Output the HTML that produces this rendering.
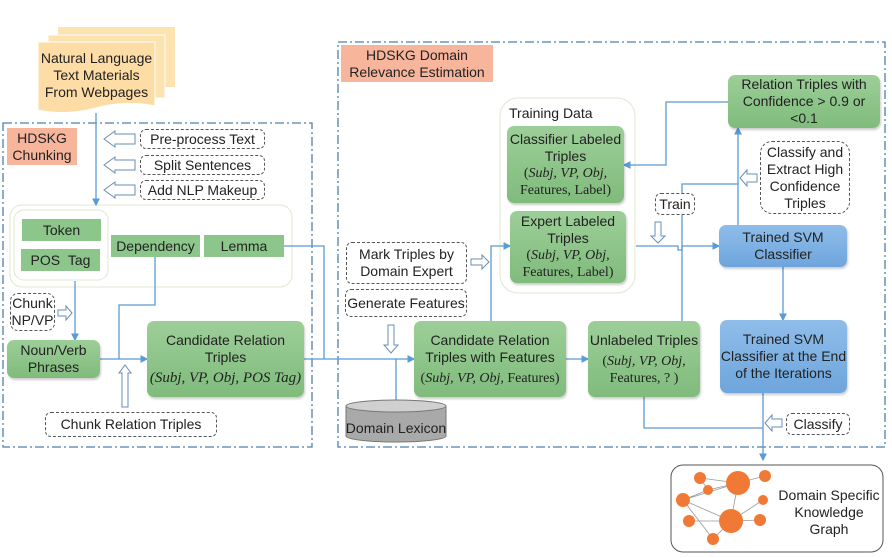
<!DOCTYPE html>
<html><head><meta charset="utf-8"><style>
body{margin:0;width:892px;height:558px;background:#fff;position:relative;overflow:hidden;font-family:"Liberation Sans",sans-serif;color:#222}
.a{position:absolute;box-sizing:border-box;display:flex;align-items:center;justify-content:center;text-align:center;font-size:14px;line-height:17px}
.g{background:linear-gradient(#9ccf98,#80bb7c);border-radius:7px;box-shadow:1px 2px 2px rgba(0,0,0,.2)}
.gs{background:#8cc68a;}
.b{background:linear-gradient(#8fbdea,#6ea5dc);border-radius:7px;box-shadow:1px 2px 2px rgba(0,0,0,.2)}
.d{border:1px dashed #555;border-radius:6px;background:#fff}
.s{background:#f7b59c}
.m{font-family:"Liberation Serif",serif;font-style:italic;font-size:15px}
.r{font-family:"Liberation Serif",serif;font-size:14px}
</style></head><body>
<svg width="892" height="558" style="position:absolute;left:0;top:0">
<defs><marker id="ar" markerWidth="6" markerHeight="6" refX="5" refY="3" orient="auto"><path d="M0,0L6,3L0,6z" fill="#5b9bd5"/></marker></defs>
<path d="M58,27H175V87H58Z" fill="#fde3b0"/>
<path d="M48,35H165V98H48Z" fill="#fde3b0" stroke="#fff"/>
<path d="M38,42H155V106Q125,100 96,108Q65,116 38,110Z" fill="#fddca5" stroke="#fff"/>
<rect x="3" y="123" width="309" height="324" fill="none" stroke="#4f7fae" stroke-width="1.3" stroke-dasharray="9,3,2,3"/>
<rect x="338" y="42" width="547" height="405" fill="none" stroke="#4f7fae" stroke-width="1.3" stroke-dasharray="9,3,2,3"/>
<rect x="10" y="205" width="282" height="82" rx="12" fill="none" stroke="#dfe8cf"/>
<rect x="14" y="210" width="94" height="70" rx="10" fill="none" stroke="#dfe8cf"/>
<rect x="500" y="98" width="135" height="195" rx="18" fill="none" stroke="#dfe8cf"/>
<g fill="none" stroke="#5b9bd5" stroke-width="1.3">
<path d="M96,113V205" marker-end="url(#ar)"/>
<path d="M75,281V340" marker-end="url(#ar)"/>
<path d="M155,257V305H119V359"/>
<path d="M100,359H147" marker-end="url(#ar)"/>
<path d="M284,246H324V359"/>
<path d="M304,359H414" marker-end="url(#ar)"/>
<path d="M396,359V400"/>
<path d="M491,321V246H510" marker-end="url(#ar)"/>
<path d="M566,359H588" marker-end="url(#ar)"/>
<path d="M636,246H678V250H682V246H719" marker-end="url(#ar)"/>
<path d="M682,321V184H738"/>
<path d="M738,225V128" marker-end="url(#ar)"/>
<path d="M728,102H666V165H624" marker-end="url(#ar)"/>
<path d="M783,267V320" marker-end="url(#ar)"/>
<path d="M644,397V428H763"/>
<path d="M763,393V460" marker-end="url(#ar)"/>
</g>
<g fill="#fff" stroke="#6a8fb5" stroke-width="1">
<path d="M135,134H115V131L104,139L115,147V144H135Z"/>
<path d="M135,160H115V157L104,165L115,173V170H135Z"/>
<path d="M135,185H115V182L104,190L115,198V195H135Z"/>
<path d="M58,310H66V306L72,313L66,320V316H58Z"/>
<path d="M122,407V373H119L125,365L131,373H128V407Z"/>
<path d="M471,259H482V255L489,262L482,269V265H471Z"/>
<path d="M388,325V345H384L391,353L398,345H394V325Z"/>
<path d="M655,222V236H651L658,243L665,236H661V222Z"/>
<path d="M757,174H747V170L740,178L747,186V182H757Z"/>
<path d="M782,419H772V415L765,423L772,431V427H782Z"/>
</g>
<path d="M346,406V436A50,6 0 0 0 446,436V406" fill="#a9a9a9" stroke="#777"/>
<ellipse cx="396" cy="406" rx="50" ry="6" fill="#d0d0d0" stroke="#777"/>
<rect x="671" y="465" width="212" height="87" rx="12" fill="#fff" stroke="#555"/>
<g stroke="#999" stroke-width="0.8" fill="none">
<path d="M700,478L738,483L765,476M708,490L738,483M683,500L708,490M683,500L738,483M683,500L731,521L689,521M683,500L713,539M738,483L731,521L763,500M731,521L760,520M689,521L731,521M713,539L731,521M700,478L708,490"/>
</g>
<g fill="#f07a35">
<circle cx="738" cy="483" r="12"/><circle cx="731" cy="521" r="12"/><circle cx="700" cy="478" r="6"/><circle cx="708" cy="490" r="5"/><circle cx="683" cy="500" r="7"/><circle cx="689" cy="521" r="6"/><circle cx="713" cy="539" r="6"/><circle cx="765" cy="476" r="6"/><circle cx="763" cy="500" r="5"/><circle cx="760" cy="520" r="6"/>
</g>
</svg>
<div class="a" style="left:34px;top:48px;width:125px;height:55px">Natural Language<br>Text Materials<br>From Webpages</div>
<div class="a s" style="left:7px;top:128px;width:70px;height:37px">HDSKG<br>Chunking</div>
<div class="a d" style="left:140px;top:129px;width:125px;height:20px">Pre-process Text</div>
<div class="a d" style="left:140px;top:155px;width:125px;height:20px">Split Sentences</div>
<div class="a d" style="left:140px;top:180px;width:125px;height:20px">Add NLP Makeup</div>
<div class="a gs" style="left:22px;top:219px;width:79px;height:22px">Token</div>
<div class="a gs" style="left:21px;top:249px;width:79px;height:22px">POS &nbsp;Tag</div>
<div class="a gs" style="left:111px;top:235px;width:89px;height:22px">Dependency</div>
<div class="a gs" style="left:204px;top:235px;width:80px;height:22px">Lemma</div>
<div class="a d" style="left:10px;top:293px;width:45px;height:38px;border-radius:8px">Chunk<br>NP/VP</div>
<div class="a g" style="left:7px;top:340px;width:93px;height:38px">Noun/Verb<br>Phrases</div>
<div class="a g" style="left:147px;top:321px;width:157px;height:76px;flex-direction:column">Candidate Relation<br>Triples<span class="m" style="margin-top:4px">(Subj, VP, Obj, POS Tag)</span></div>
<div class="a d" style="left:45px;top:412px;width:172px;height:25px">Chunk Relation Triples</div>
<div class="a s" style="left:341px;top:45px;width:152px;height:37px">HDSKG Domain<br>Relevance Estimation</div>
<div class="a g" style="left:728px;top:75px;width:152px;height:53px">Relation Triples with<br>Confidence &gt; 0.9 or<br>&lt;0.1</div>
<div class="a" style="left:509px;top:105px;width:100px;height:16px;justify-content:flex-start">Training Data</div>
<div class="a g" style="left:507px;top:126px;width:117px;height:77px;flex-direction:column">Classifier Labeled<br>Triples<span class="r">(<i>Subj, VP, Obj,</i><br>Features, Label)</span></div>
<div class="a g" style="left:510px;top:211px;width:116px;height:72px;flex-direction:column">Expert Labeled<br>Triples<span class="r">(<i>Subj, VP, Obj,</i><br>Features, Label)</span></div>
<div class="a d" style="left:655px;top:193px;width:40px;height:22px">Train</div>
<div class="a d" style="left:760px;top:141px;width:90px;height:73px;border-radius:12px">Classify and<br>Extract High<br>Confidence<br>Triples</div>
<div class="a b" style="left:719px;top:225px;width:128px;height:42px">Trained SVM<br>Classifier</div>
<div class="a d" style="left:346px;top:242px;width:121px;height:42px">Mark Triples by<br>Domain Expert</div>
<div class="a d" style="left:345px;top:289px;width:122px;height:28px">Generate Features</div>
<div class="a g" style="left:414px;top:321px;width:152px;height:76px;flex-direction:column">Candidate Relation<br>Triples with Features<span class="r" style="margin-top:4px">(<i>Subj, VP, Obj,</i> Features)</span></div>
<div class="a g" style="left:588px;top:321px;width:112px;height:76px;flex-direction:column">Unlabeled Triples<span class="r" style="margin-top:4px">(<i>Subj, VP, Obj,</i><br>Features, ? )</span></div>
<div class="a b" style="left:720px;top:320px;width:127px;height:73px">Trained SVM<br>Classifier at the End<br>of the Iterations</div>
<div class="a" style="left:340px;top:418px;width:112px;height:20px;white-space:nowrap">Domain Lexicon</div>
<div class="a d" style="left:786px;top:413px;width:64px;height:22px">Classify</div>
<div class="a" style="left:773px;top:486px;width:112px;height:52px">Domain Specific<br>Knowledge<br>Graph</div>
</body></html>
